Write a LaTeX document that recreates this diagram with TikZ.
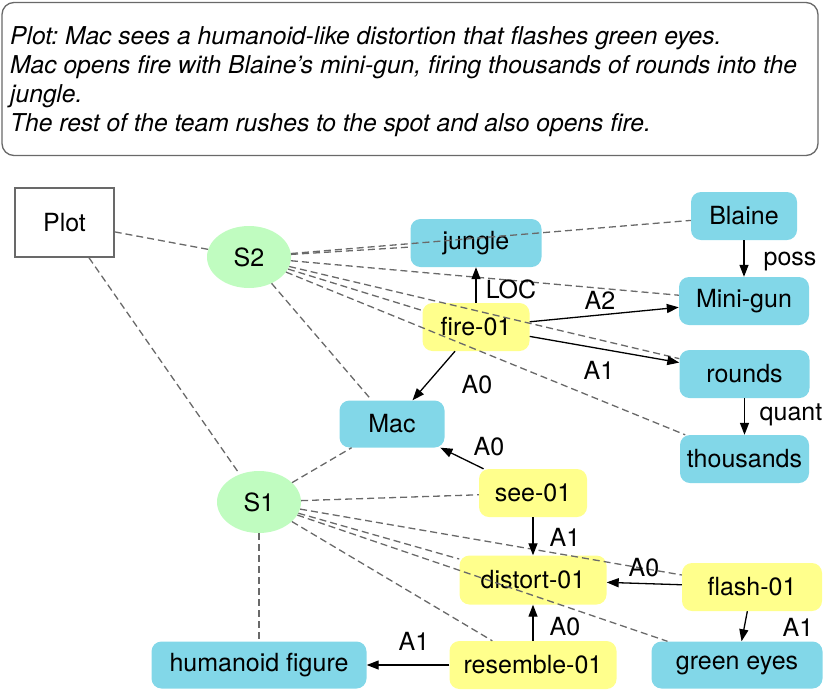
\documentclass[tikz,border=0pt]{standalone}
\usepackage{fontspec}
\setmainfont{TeX Gyre Heros}
\usetikzlibrary{arrows.meta,shapes.geometric}
\definecolor{cblue}{RGB}{130,215,232}
\definecolor{cyellow}{RGB}{255,255,140}
\definecolor{cgreen}{RGB}{192,252,192}
\definecolor{cgray}{RGB}{105,105,105}
\frenchspacing
\begin{document}
\begin{tikzpicture}[x=1pt,y=-1pt,
  font=\fontsize{25}{30}\selectfont,
  ent/.style={fill=cblue, rounded corners=10pt, minimum height=48pt, inner sep=0pt},
  pred/.style={fill=cyellow, rounded corners=10pt, minimum height=48pt, inner sep=0pt},
  sent/.style={ellipse, fill=cgreen, minimum width=84pt, minimum height=62pt, inner sep=0pt},
  link/.style={draw=cgray, dash pattern=on 7pt off 4pt, line width=1.3pt},
  rel/.style={draw=black, -{Triangle[length=12pt,width=9pt]}, line width=1.3pt},
  lab/.style={inner sep=0pt},
  txt/.style={inner sep=0pt, anchor=base west, font=\fontsize{24.6}{29}\selectfont\itshape}]
\useasboundingbox (0,0) rectangle (830,689);
% plot text box
\node[draw=cgray, line width=1.3pt, rounded corners=12pt, minimum width=816pt, minimum height=153pt, inner sep=0pt] (box) at (410,79) {};
\node[txt] (t1) at (10,44) {Plot: Mac sees a humanoid-like distortion that flashes green eyes.};
\node[txt] (t2) at (10,73) {Mac opens fire with Blaine’s mini-gun, firing thousands of rounds into the};
\node[txt] (t3) at (10,102) {jungle.};
\node[txt] (t4) at (10,131) {The rest of the team rushes to the spot and also opens fire.};
% nodes
\node[draw=cgray, line width=1.3pt, fill=white, minimum width=99pt, minimum height=69pt, inner sep=0pt] (plot) at (64.5,222.5) {Plot};
\node[sent] (s2) at (249,257) {S2};
\node[sent] (s1) at (259,502) {S1};
\node[ent, minimum width=131pt] (jungle) at (476,243) {jungle};
\node[ent, minimum width=106pt] (blaine) at (744,216) {Blaine};
\node[ent, minimum width=130pt] (minigun) at (744,301) {Mini-gun};
\node[pred, minimum width=107pt] (fire) at (476,327) {fire-01};
\node[ent, minimum width=130pt] (rounds) at (744.5,374) {rounds};
\node[ent, minimum width=105pt, minimum height=47pt] (mac) at (392,424) {Mac};
\node[ent, minimum width=129pt] (thousands) at (744.5,459) {thousands};
\node[pred, minimum width=108pt] (see) at (533,493) {see-01};
\node[pred, minimum width=147pt, minimum height=49pt] (distort) at (533,580) {distort-01};
\node[pred, minimum width=140pt] (flash) at (752,587) {flash-01};
\node[pred, minimum width=167pt] (resemble) at (533,665) {resemble-01};
\node[ent, minimum width=215pt, minimum height=47pt] (humanoid) at (259,665) {humanoid figure};
\node[ent, minimum width=171pt, minimum height=47pt] (green) at (737,665) {green eyes};
% dashed links
\draw[link] (plot) -- (s2);
\draw[link] (plot) -- (s1);
\foreach \n in {jungle,blaine,minigun,fire,rounds,thousands,mac}
  \draw[link] (s2) -- (\n);
\foreach \n in {mac,see,distort,flash,resemble,humanoid,green}
  \draw[link] (s1) -- (\n);
% relations
\draw[rel] (fire) -- (jungle);
\draw[rel] (fire) -- (minigun);
\draw[rel] (fire) -- (rounds);
\draw[rel] (fire) -- (mac);
\draw[rel] (blaine) -- (minigun);
\draw[rel] (rounds) -- (thousands);
\draw[rel] (see) -- (mac);
\draw[rel] (see) -- (distort);
\draw[rel] (flash) -- (distort);
\draw[rel] (flash) -- (green);
\draw[rel] (resemble) -- (distort);
\draw[rel] (resemble) -- (humanoid);
% labels
\node[lab] (lloc) at (511,289) {LOC};
\node[lab] (la2) at (600,300) {A2};
\node[lab] (la1f) at (599,370) {A1};
\node[lab] (la0f) at (477,385) {A0};
\node[lab] (lposs) at (790,261) {poss};
\node[lab] (lquant) at (791,415) {quant};
\node[lab] (la0s) at (489,447) {A0};
\node[lab] (la1s) at (565,537) {A1};
\node[lab] (la0fl) at (644,568) {A0};
\node[lab] (la0r) at (565,627) {A0};
\node[lab] (la1fl) at (798,627) {A1};
\node[lab] (la1r) at (414,641) {A1};
\end{tikzpicture}
\end{document}
